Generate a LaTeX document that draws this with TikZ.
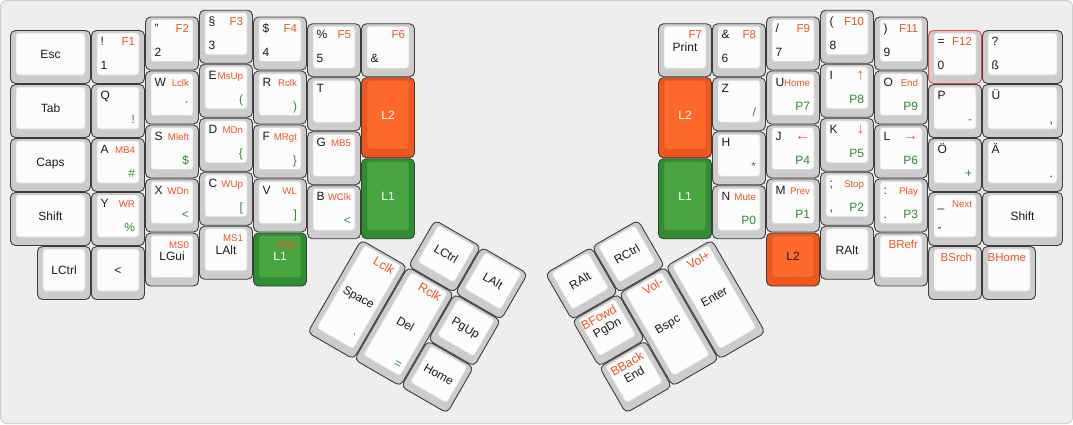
\documentclass[tikz,border=0pt]{standalone}
\usepackage{fontspec}
\setmainfont{Liberation Sans}
\newcounter{lg}
\definecolor{kbg}{HTML}{EEEEEE}
\definecolor{kframe}{HTML}{CFCFCF}
\definecolor{kgray}{HTML}{CCCCCC}
\definecolor{kline}{HTML}{3C3C3C}
\definecolor{kface}{HTML}{FCFCFC}
\definecolor{kfaceline}{HTML}{DADADA}
\definecolor{korout}{HTML}{F2561A}
\definecolor{korin}{HTML}{FF6A2C}
\definecolor{kgrout}{HTML}{2F8E2F}
\definecolor{kgrin}{HTML}{48A53F}
\definecolor{kred}{HTML}{E8474A}
\definecolor{torange}{HTML}{EE5520}
\definecolor{tgreen}{HTML}{2E8B2E}
\definecolor{ttext}{HTML}{1A1A1A}
\tikzset{
  keyout/.style={rounded corners=5pt, line width=0.9pt},
  keyin/.style={rounded corners=3pt, line width=0.6pt},
  outgk/.style={fill=kgray, draw=kline},
  ingk/.style={fill=kface, draw=kfaceline},
  outrk/.style={fill=kgray, draw=kred},
  inrk/.style={fill=kface, draw=kfaceline},
  outok/.style={fill=korout, draw=kline},
  inok/.style={fill=korin, draw=korin!85!black},
  outgrk/.style={fill=kgrout, draw=kline},
  ingrk/.style={fill=kgrin, draw=kgrin!85!black},
  lgd/.style={inner sep=0pt, outer sep=0pt, text=ttext, font=\fontsize{12}{14}\selectfont},
  orng/.style={text=torange, font=\fontsize{11.5}{13}\selectfont},
  orsm/.style={text=torange, font=\fontsize{9.7}{11}\selectfont},
  orbig/.style={text=torange, font=\fontsize{12.3}{14}\selectfont},
  orarr/.style={text=torange, font=\fontsize{15}{15}\selectfont},
  grn/.style={text=tgreen},
  wht/.style={text=white},
}
\newcommand\kcap[6]{%
  \begin{scope}[shift={({54*#1},{54*#2})}]
    \pgfmathsetmacro\kw{54*#3}%
    \pgfmathsetmacro\kh{54*#4}%
    \path[keyout,out#5] (0.5,0.5) rectangle ({\kw-0.5},{\kh-0.5});
    \path[keyin,in#5] (6,3) rectangle ({\kw-6},{\kh-9});
    #6
  \end{scope}}
\newcommand\TL[2][]{\stepcounter{lg}\node[lgd,anchor=base west,#1] (lg\arabic{lg}) at (9.5,15.5) {#2};}
\newcommand\TR[2][]{\stepcounter{lg}\node[lgd,anchor=base east,#1] (lg\arabic{lg}) at ({\kw-10},15.5) {#2};}
\newcommand\BL[2][]{\stepcounter{lg}\node[lgd,anchor=base west,#1] (lg\arabic{lg}) at (9.5,{\kh-14.5}) {#2};}
\newcommand\BR[2][]{\stepcounter{lg}\node[lgd,anchor=base east,#1] (lg\arabic{lg}) at ({\kw-10},{\kh-14.5}) {#2};}
\newcommand\CC[2][]{\stepcounter{lg}\node[lgd,anchor=base,#1] (lg\arabic{lg}) at ({\kw/2},{(\kh-6)/2+4.3}) {#2};}
\begin{document}
\begin{tikzpicture}[x=1pt,y=-1pt]
\useasboundingbox (0,0) rectangle (1073,424);
\path[fill=kbg, draw=kframe, line width=1pt, rounded corners=6pt] (0.5,0.5) rectangle (1072.5,423.5);
\begin{scope}[shift={(10,9.75)}]
% ---------- left half ----------
\kcap{0}{0.375}{1.5}{1}{gk}{\CC{Esc}}
\kcap{0}{1.375}{1.5}{1}{gk}{\CC{Tab}}
\kcap{0}{2.375}{1.5}{1}{gk}{\CC{Caps}}
\kcap{0}{3.375}{1.5}{1}{gk}{\CC{Shift}}
\kcap{0.5}{4.375}{1}{1}{gk}{\CC{LCtrl}}
\kcap{1.5}{0.375}{1}{1}{gk}{\TL{!}\TR[orng]{F1}\BL{1}}
\kcap{1.5}{1.375}{1}{1}{gk}{\TL{Q}\BR[grn]{!}}
\kcap{1.5}{2.375}{1}{1}{gk}{\TL{A}\TR[orsm]{MB4}\BR[grn]{\#}}
\kcap{1.5}{3.375}{1}{1}{gk}{\TL{Y}\TR[orsm]{WR}\BR[grn]{\%}}
\kcap{1.5}{4.375}{1}{1}{gk}{\CC{<}}
\kcap{2.5}{0.125}{1}{1}{gk}{\TL{"}\TR[orng]{F2}\BL{2}}
\kcap{2.5}{1.125}{1}{1}{gk}{\TL{W}\TR[orsm]{Lclk}\BR[grn]{´}}
\kcap{2.5}{2.125}{1}{1}{gk}{\TL{S}\TR[orsm]{Mleft}\BR[grn]{\$}}
\kcap{2.5}{3.125}{1}{1}{gk}{\TL{X}\TR[orsm]{WDn}\BR[grn]{<}}
\kcap{2.5}{4.125}{1}{1}{gk}{\TR[orsm]{MS0}\CC{LGui}}
\kcap{3.5}{0}{1}{1}{gk}{\TL{§}\TR[orng]{F3}\BL{3}}
\kcap{3.5}{1}{1}{1}{gk}{\TL{E}\TR[orsm]{MsUp}\BR[grn]{(}}
\kcap{3.5}{2}{1}{1}{gk}{\TL{D}\TR[orsm]{MDn}\BR[grn]{\{}}
\kcap{3.5}{3}{1}{1}{gk}{\TL{C}\TR[orsm]{WUp}\BR[grn]{[}}
\kcap{3.5}{4}{1}{1}{gk}{\TR[orsm]{MS1}\CC{LAlt}}
\kcap{4.5}{0.125}{1}{1}{gk}{\TL{\$}\TR[orng]{F4}\BL{4}}
\kcap{4.5}{1.125}{1}{1}{gk}{\TL{R}\TR[orsm]{Rclk}\BR[grn]{)}}
\kcap{4.5}{2.125}{1}{1}{gk}{\TL{F}\TR[orsm]{MRgt}\BR[grn]{\}}}
\kcap{4.5}{3.125}{1}{1}{gk}{\TL{V}\TR[orsm]{WL}\BR[grn]{]}}
\kcap{4.5}{4.125}{1}{1}{grk}{\TR[orsm]{MS2}\CC[wht]{L1}}
\kcap{5.5}{0.25}{1}{1}{gk}{\TL{\%}\TR[orng]{F5}\BL{5}}
\kcap{5.5}{1.25}{1}{1}{gk}{\TL{T}}
\kcap{5.5}{2.25}{1}{1}{gk}{\TL{G}\TR[orsm]{MB5}}
\kcap{5.5}{3.25}{1}{1}{gk}{\TL{B}\TR[orsm]{WClk}\BR[grn]{<}}
\kcap{6.5}{0.25}{1}{1}{gk}{\TR[orng]{F6}\BL{\&}}
\kcap{6.5}{1.25}{1}{1.5}{ok}{\CC[wht]{L2}}
\kcap{6.5}{2.75}{1}{1.5}{grk}{\CC[wht]{L1}}
% ---------- right half ----------
\kcap{12}{0.25}{1}{1}{gk}{\TR[orng]{F7}\CC{Print}}
\kcap{12}{1.25}{1}{1.5}{ok}{\CC[wht]{L2}}
\kcap{12}{2.75}{1}{1.5}{grk}{\CC[wht]{L1}}
\kcap{13}{0.25}{1}{1}{gk}{\TL{\&}\TR[orng]{F8}\BL{6}}
\kcap{13}{1.25}{1}{1}{gk}{\TL{Z}\BR[grn]{/}}
\kcap{13}{2.25}{1}{1}{gk}{\TL{H}\BR[grn]{*}}
\kcap{13}{3.25}{1}{1}{gk}{\TL{N}\TR[orsm]{Mute}\BR[grn]{P0}}
\kcap{14}{0.125}{1}{1}{gk}{\TL{/}\TR[orng]{F9}\BL{7}}
\kcap{14}{1.125}{1}{1}{gk}{\TL{U}\TR[orsm]{Home}\BR[grn]{P7}}
\kcap{14}{2.125}{1}{1}{gk}{\TL{J}\TR[orarr]{←}\BR[grn]{P4}}
\kcap{14}{3.125}{1}{1}{gk}{\TL{M}\TR[orsm]{Prev}\BR[grn]{P1}}
\kcap{14}{4.125}{1}{1}{ok}{\CC{L2}}
\kcap{15}{0}{1}{1}{gk}{\TL{(}\TR[orng]{F10}\BL{8}}
\kcap{15}{1}{1}{1}{gk}{\TL{I}\TR[orarr]{↑}\BR[grn]{P8}}
\kcap{15}{2}{1}{1}{gk}{\TL{K}\TR[orarr]{↓}\BR[grn]{P5}}
\kcap{15}{3}{1}{1}{gk}{\TL{;}\TR[orsm]{Stop}\BL{,}\BR[grn]{P2}}
\kcap{15}{4}{1}{1}{gk}{\CC{RAlt}}
\kcap{16}{0.125}{1}{1}{gk}{\TL{)}\TR[orng]{F11}\BL{9}}
\kcap{16}{1.125}{1}{1}{gk}{\TL{O}\TR[orsm]{End}\BR[grn]{P9}}
\kcap{16}{2.125}{1}{1}{gk}{\TL{L}\TR[orarr]{→}\BR[grn]{P6}}
\kcap{16}{3.125}{1}{1}{gk}{\TL{:}\TR[orsm]{Play}\BL{.}\BR[grn]{P3}}
\kcap{16}{4.125}{1}{1}{gk}{\TR[orng]{BRefr}}
\kcap{17}{0.375}{1}{1}{rk}{\TL{=}\TR[orng]{F12}\BL{0}}
\kcap{17}{1.375}{1}{1}{gk}{\TL{P}\BR[grn]{-}}
\kcap{17}{2.375}{1}{1}{gk}{\TL{Ö}\BR[grn]{+}}
\kcap{17}{3.375}{1}{1}{gk}{\TL{\_}\TR[orsm]{Next}\BL{-}}
\kcap{17}{4.375}{1}{1}{gk}{\TR[orng]{BSrch}}
\kcap{18}{0.375}{1.5}{1}{gk}{\TL{?}\BL{ß}}
\kcap{18}{1.375}{1.5}{1}{gk}{\TL{Ü}\BR{,}}
\kcap{18}{2.375}{1.5}{1}{gk}{\TL{Ä}\BR{.}}
\kcap{18}{3.375}{1.5}{1}{gk}{\CC{Shift}}
\kcap{18}{4.375}{1}{1}{gk}{\TR[orng]{BHome}}
\end{scope}
% ---------- left thumb cluster ----------
\begin{scope}[shift={(361,239.25)}, rotate=-30, every node/.append style={transform shape}]
\kcap{1}{-1}{1}{1}{gk}{\CC{LCtrl}}
\kcap{2}{-1}{1}{1}{gk}{\CC{LAlt}}
\kcap{0}{0}{1}{2}{gk}{\TR[orbig]{Lclk}\CC{Space}\BR[grn]{\textasciigrave}}
\kcap{1}{0}{1}{2}{gk}{\TR[orbig]{Rclk}\CC{Del}\BR[grn]{=}}
\kcap{2}{0}{1}{1}{gk}{\CC{PgUp}}
\kcap{2}{1}{1}{1}{gk}{\CC{Home}}
\end{scope}
% ---------- right thumb cluster ----------
\begin{scope}[shift={(712,239.25)}, rotate=30, every node/.append style={transform shape}]
\kcap{-3}{-1}{1}{1}{gk}{\CC{RAlt}}
\kcap{-2}{-1}{1}{1}{gk}{\CC{RCtrl}}
\kcap{-3}{0}{1}{1}{gk}{\TR[orbig]{BFowd}\CC{PgDn}}
\kcap{-3}{1}{1}{1}{gk}{\TR[orbig]{BBack}\CC{End}}
\kcap{-2}{0}{1}{2}{gk}{\TR[orbig]{Vol-}\CC{Bspc}}
\kcap{-1}{0}{1}{2}{gk}{\TR[orbig]{Vol+}\CC{Enter}}
\end{scope}
\end{tikzpicture}
\end{document}
